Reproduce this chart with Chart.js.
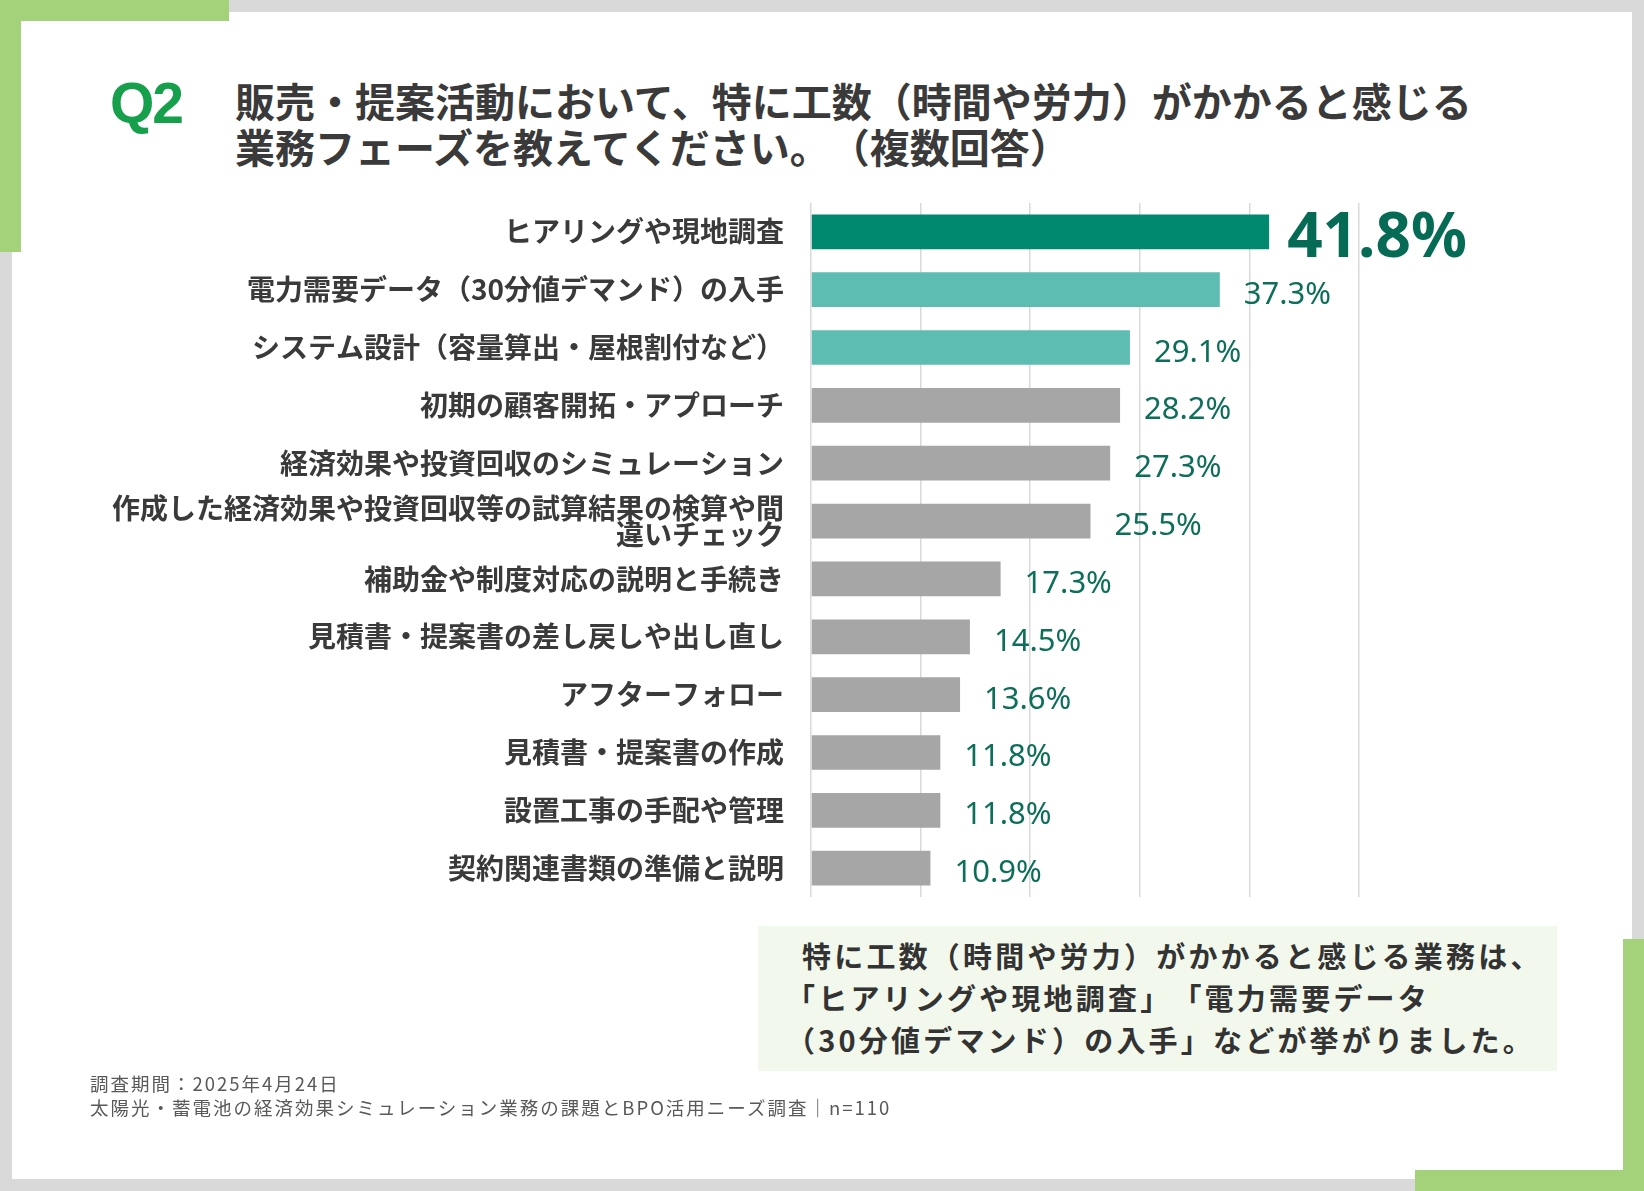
<!DOCTYPE html>
<html lang="ja">
<head>
<meta charset="utf-8">
<title>Q2 業務フェーズ</title>
<script src="https://cdn.jsdelivr.net/npm/chart.js@4.4.1/dist/chart.umd.min.js"></script>
<style>
  html, body { margin: 0; padding: 0; }
  body {
    width: 1644px; height: 1191px; position: relative; overflow: hidden;
    background: #d9d9d9;
    font-family: "Noto Sans CJK JP", "Noto Sans", sans-serif;
    text-spacing-trim: space-all;
  }
  .panel { position: absolute; left: 12px; top: 12px; width: 1620px; height: 1167px; background: #fff; }
  .green { position: absolute; background: #a4d27a; }
  .q { position: absolute; left: 110px; top: 75px; font: bold 57px/57px "Liberation Sans", Arial, sans-serif;
       color: #16a04b; letter-spacing: -2px; }
  .title { position: absolute; left: 235px; top: 77px; font-weight: 700; font-size: 40px; line-height: 46px;
           color: #3a3a3a; white-space: nowrap; }
  #chartBox { position: absolute; left: 80px; top: 163px; width: 1480px; height: 774px; }
  .summary { position: absolute; left: 758px; top: 926px; width: 799px; height: 145px; background: #f2f8ec; }
  .summary .txt { position: absolute; left: 44px; top: 8px; font-weight: 700; font-size: 29px; line-height: 42px;
                  letter-spacing: 3.2px; color: #333; white-space: nowrap; }
  .summary .open { margin-left: -16px; }
  .foot { position: absolute; left: 90px; top: 1071px; font-size: 18.5px; line-height: 24px; letter-spacing: 2px;
          color: #595959; white-space: nowrap; }
</style>
</head>
<body>
<div class="panel"></div>
<div class="green" style="left:0;top:0;width:229px;height:21px"></div>
<div class="green" style="left:0;top:0;width:21px;height:252px"></div>
<div class="green" style="left:1623px;top:939px;width:21px;height:252px"></div>
<div class="green" style="left:1415px;top:1170px;width:229px;height:21px"></div>

<div class="q">Q2</div>
<div class="title">販売・提案活動において、特に工数（時間や労力）がかかると感じる<br>業務フェーズを教えてください。（複数回答）</div>

<div id="chartBox"><canvas id="phaseChart" width="1480" height="774"></canvas></div>

<div class="summary"><div class="txt">
  <div>特に工数（時間や労力）がかかると感じる業務は、</div>
  <div class="open">「ヒアリングや現地調査」「電力需要データ</div>
  <div class="open">（30分値デマンド）の入手」などが挙がりました。</div>
</div></div>

<div class="foot">調査期間：2025年4月24日<br>太陽光・蓄電池の経済効果シミュレーション業務の課題とBPO活用ニーズ調査｜n=110</div>

<script>
// categories and answer shares (%)
const categories = [
    'ヒアリングや現地調査',
    '電力需要データ（30分値デマンド）の入手',
    'システム設計（容量算出・屋根割付など）',
    '初期の顧客開拓・アプローチ',
    '経済効果や投資回収のシミュレーション',
    ['作成した経済効果や投資回収等の試算結果の検算や間', '違いチェック'],
    '補助金や制度対応の説明と手続き',
    '見積書・提案書の差し戻しや出し直し',
    'アフターフォロー',
    '見積書・提案書の作成',
    '設置工事の手配や管理',
    '契約関連書類の準備と説明'
];
const shares = [41.8, 37.3, 29.1, 28.2, 27.3, 25.5, 17.3, 14.5, 13.6, 11.8, 11.8, 10.9];
const axisMin = 0;
const axisMax = 50;
const axisStep = 10;

const barColors = ['#00896f', '#5ebdb3', '#5ebdb3'];
const grayBar = '#a6a6a6';

// value labels at the bar ends
const valueLabels = {
    id: 'valueLabels',
    afterDatasetsDraw(chart) {
        const ctx = chart.ctx;
        const meta = chart.getDatasetMeta(0);
        ctx.save();
        ctx.textAlign = 'left';
        ctx.textBaseline = 'alphabetic';
        meta.data.forEach((bar, i) => {
            const text = shares[i].toFixed(1) + '%';
            if (i === 0) {
                ctx.font = 'bold 62px "Noto Sans", sans-serif';
                ctx.fillStyle = '#066b55';
                ctx.fillText(text, bar.x + 18, bar.y + 25);
            } else {
                ctx.font = '31px "Noto Sans", sans-serif';
                ctx.fillStyle = '#0d6f59';
                ctx.fillText(text, bar.x + 24, bar.y + 14);
            }
        });
        ctx.restore();
    }
};

const ctx = document.getElementById('phaseChart').getContext('2d');
new Chart(ctx, {
    type: 'bar',
    data: {
        labels: categories,
        datasets: [{
            data: shares,
            backgroundColor: shares.map((v, i) => barColors[i] || grayBar),
            borderWidth: 0,
            barPercentage: 0.6,
            categoryPercentage: 1.0
        }]
    },
    options: {
        indexAxis: 'y',
        responsive: false,
        animation: false,
        devicePixelRatio: 1,
        layout: { padding: { left: 0, right: 201, top: 14, bottom: 15 } },
        plugins: {
            legend: { display: false },
            tooltip: { enabled: false }
        },
        scales: {
            x: {
                min: axisMin,
                max: axisMax,
                ticks: { stepSize: axisStep, display: false },
                grid: { color: '#d9d9d9', lineWidth: 1.5, drawTicks: false },
                border: { display: false },
                afterFit: scale => { scale.height = 0; }
            },
            y: {
                grid: { display: false, drawTicks: false },
                border: { display: false },
                ticks: {
                    color: '#3a3a3a',
                    padding: 27,
                    autoSkip: false,
                    font: { family: '"Noto Sans CJK JP", sans-serif', size: 28, weight: 'bold', lineHeight: 0.92 }
                },
                afterFit: scale => { scale.width = 731; }
            }
        }
    },
    plugins: [valueLabels]
});
</script>
</body>
</html>
